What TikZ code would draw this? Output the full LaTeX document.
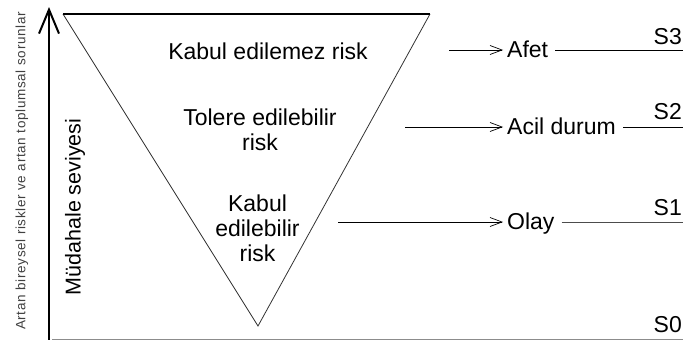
\documentclass[tikz,border=0pt]{standalone}
\usepackage{fontspec}
\setmainfont{Liberation Sans}
\usetikzlibrary{arrows.meta}
\begin{document}
\begin{tikzpicture}[x=1pt,y=-1pt,
  big/.style={font=\fontsize{23}{25}\selectfont, inner sep=0pt, align=center},
  rlab/.style={font=\fontsize{23}{25}\selectfont, inner xsep=4pt, inner ysep=0pt, text height=17pt, text depth=2pt, anchor=west},
  slab/.style={font=\fontsize{23}{25}\selectfont, inner sep=0pt, anchor=base east},
  tri/.style={draw=black!80, line width=0.8pt},
  arr/.style={draw=black, line width=0.8pt, -{Straight Barb[length=12pt,width=9pt,line width=0.7pt]}},
  lev/.style={draw=black, line width=0.8pt, shorten <=3pt},
  axis/.style={draw=black, line width=2.2pt, -{Straight Barb[length=24pt,width=20pt,line width=2pt]}}
]
\useasboundingbox (0,0) rectangle (683,340);

% axis
\coordinate (ax0) at (49,340);
\coordinate (ax1) at (49,7);
\draw[axis] (ax0) -- (ax1);

% left labels
\node[inner sep=0pt, rotate=90, text=black!75, font=\fontsize{13.5}{15}\selectfont\addfontfeature{LetterSpace=5}] (outer) at (22,171) {Artan bireysel riskler ve artan toplumsal sorunlar};
\node[inner sep=0pt, rotate=90, font=\fontsize{21.5}{23}\selectfont] (mud) at (75,207) {Müdahale seviyesi};

% triangle
\coordinate (tl) at (63,14);
\coordinate (tr) at (430,14);
\coordinate (bt) at (258,326);
\draw[tri] (tr) -- (bt) -- (tl);
\draw[draw=black, line width=1.4pt] (tl) -- (tr);

% triangle texts
\node[big] (t3) at (268,51.6) {Kabul edilemez risk};
\node[big] (t2) at (260,130) {Tolere edilebilir\\risk};
\node[big] (t1) at (257.5,228.6) {Kabul\\edilebilir\\risk};

% bottom line
\coordinate (b0) at (52,339);
\coordinate (b1) at (683,339);
\draw[draw=black!45, line width=0.9pt] (b0) -- (b1);

% row S3
\node[rlab] (afet) at (503,50) {Afet};
\coordinate (a3) at (449,50);
\coordinate (e3) at (683,50);
\draw[arr] (a3) -- (afet.west);
\draw[lev] (afet.east) -- (e3);
\node[slab] (s3) at (682,44) {S3};

% row S2
\node[rlab] (acil) at (503,127) {Acil durum};
\coordinate (a2) at (405,127);
\coordinate (e2) at (683,127);
\draw[arr] (a2) -- (acil.west);
\draw[lev] (acil.east) -- (e2);
\node[slab] (s2) at (682,119) {S2};

% row S1
\node[rlab] (olay) at (503,222) {Olay};
\coordinate (a1) at (338,222);
\coordinate (e1) at (683,222);
\draw[arr] (a1) -- (olay.west);
\draw[lev, draw=black!70, line width=0.9pt] (olay.east) -- (e1);
\node[slab] (s1) at (682,215) {S1};

% S0
\node[slab] (s0) at (682,332) {S0};
\end{tikzpicture}
\end{document}
